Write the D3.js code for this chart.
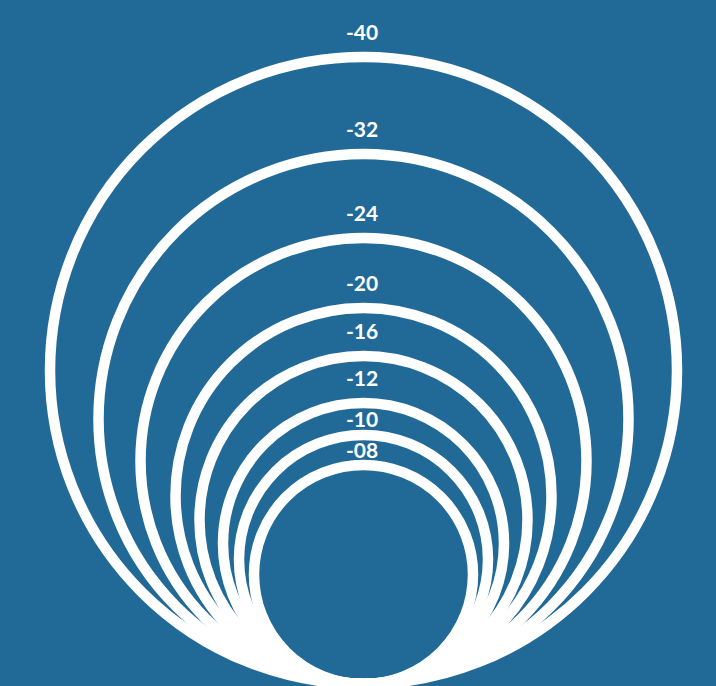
<!DOCTYPE html>
<meta charset="utf-8">
<head>
    <title>Rings</title>
    <script src="https://cdn.jsdelivr.net/npm/d3@7"></script>
</head>

<style>
    body { margin: 0; background: #216a98; }
    circle { fill: none; stroke: white; stroke-width: 10.5; }
    text { fill: white; font-family: Lato, sans-serif; font-weight: 700; font-size: 21px; text-anchor: middle; }
</style>

<svg></svg>

<script>
    // ring labels and ring sizes
    var labels = ["-40", "-32", "-24", "-20", "-16", "-12", "-10", "-08"];
    var sizes = [313.5, 265, 223, 188, 164, 140.5, 124.5, 109.5];

    var vWidth = 716;
    var vHeight = 686;
    var cx = 363.5;
    var base = 684;      // where all rings touch
    var sw = 10.5;
    var capH = 15;

    var svg = d3.select('svg')
        .attr('width', vWidth)
        .attr('height', vHeight);

    svg.append('rect')
        .attr('width', vWidth).attr('height', vHeight)
        .attr('fill', '#216a98');

    var r = d3.scaleLinear()
        .domain([0, d3.max(sizes)])
        .range([0, 313.5]);

    var rings = labels.map(function (l, i) { return {label: l, size: sizes[i]}; });

    svg.selectAll('circle').data(rings).enter().append('circle')
        .attr('cx', cx)
        .attr('cy', function (d) { return base - r(d.size); })
        .attr('r', function (d) { return r(d.size); });

    // label sits just above its ring, or centred in the gap if the rings are close
    svg.selectAll('text').data(rings).enter().append('text')
        .attr('x', cx - 1.5)
        .attr('y', function (d, i) {
            var top = base - 2 * r(d.size) - sw / 2;
            var y = top - 12;
            if (i > 0) {
                var prevInner = base - 2 * r(rings[i - 1].size) + sw / 2;
                if (y - capH < prevInner + 3) y = (prevInner + top) / 2 + capH / 2;
            }
            return y;
        })
        .text(function (d) { return d.label; });
</script>
